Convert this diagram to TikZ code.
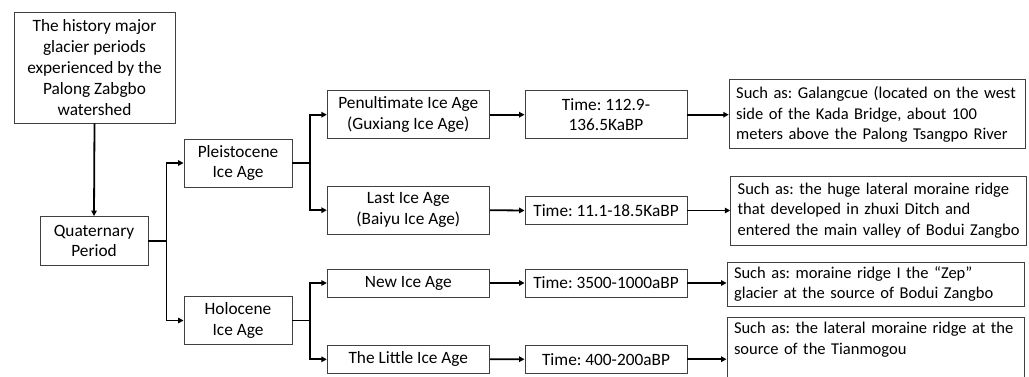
\documentclass[tikz,border=0pt]{standalone}
\usepackage{fontspec}
\setmainfont{Carlito}
\usetikzlibrary{arrows.meta,calc}
\begin{document}
\begin{tikzpicture}[x=1pt,y=-1pt,
  box/.style={draw=black!75,line width=0.9pt,fill=white,inner sep=0pt,align=center,
    font=\fontsize{17.3}{20.8}\selectfont\frenchspacing},
  sbox/.style={box,align=left,text width=#1,inner xsep=7pt,
    font=\fontsize{16.5}{20.8}\selectfont\frenchspacing},
  conn/.style={draw=black,line width=1.8pt},
  arr/.style={conn,-{Triangle[length=5.5pt,width=5.5pt]}}]
\useasboundingbox (0,0) rectangle (1029,377);
\fill[white] (0,0) rectangle (1029,377);
\begin{scope}
\clip (0,0) rectangle (1029,377);
\node[box,minimum width=161pt,minimum height=111pt] (top) at (94.5,67.5)
  {The history major\\glacier periods\\experienced by the\\Palong Zabgbo\\watershed};
\node[box,minimum width=108pt,minimum height=49pt] (quat) at (94,241) {Quaternary\\Period};
\node[box,minimum width=108pt,minimum height=48pt] (pleis) at (238,163) {Pleistocene\\Ice Age};
\node[box,minimum width=108pt,minimum height=48pt] (holo) at (238,320.5) {Holocene\\Ice Age};
\node[box,minimum width=162pt,minimum height=48pt] (pen) at (408.3,114.7) {Penultimate Ice Age\\(Guxiang Ice Age)};
\node[box,minimum width=162pt,minimum height=48pt] (last) at (408.3,210.2) {Last Ice Age\\(Baiyu Ice Age)};
\node[box,minimum width=162pt,minimum height=28pt] (new) at (408.3,283) {New Ice Age};
\node[box,minimum width=162pt,minimum height=28pt] (little) at (408.3,359.3) {The Little Ice Age};
\node[box,minimum width=162pt,minimum height=48pt] (t1) at (606,114.7) {Time: 112.9-\\136.5KaBP};
\node[box,minimum width=162pt,minimum height=28pt] (t2) at (606,210.5) {Time: 11.1-18.5KaBP};
\node[box,minimum width=162pt,minimum height=28pt] (t3) at (606,283) {Time: 3500-1000aBP};
\node[box,minimum width=162pt,minimum height=28pt] (t4) at (606,359.2) {Time: 400-200aBP};
\node[sbox=282pt,minimum height=69pt] (s1) at (877.2,114.4)
  {\hbox{Such as: Galangcue (located on the west}\\side of the Kada Bridge, about 100\\\hbox{meters above the Palong Tsangpo River}};
\node[sbox=282pt,minimum height=69pt] (s2) at (878.7,210.5)
  {\hbox{Such as: the huge lateral moraine ridge}\\that developed in zhuxi Ditch and\\\hbox{entered the main valley of Bodui Zangbo}};
\node[sbox=283pt,minimum height=44pt] (s3) at (875.5,284)
  {Such as: moraine ridge I the “Zep”\\\hbox{glacier at the source of Bodui Zangbo}};
\node[sbox=283pt,minimum height=69pt] (s4) at (875.5,351.5)
  {\hbox{Such as: the lateral moraine ridge at the}\\source of the Tianmogou\\\strut};
\end{scope}
\coordinate (j1) at ($(quat.east)+(18,0)$);
\coordinate (j2) at ($(pleis.east)+(17.7,0)$);
\coordinate (j3) at ($(holo.east)+(17.7,0)$);
\draw[arr] (top.south) -- (quat.north);
\draw[conn] (quat.east) -- (j1);
\draw[arr] (j1) |- (pleis.west);
\draw[arr] (j1) |- (holo.west);
\draw[conn] (pleis.east) -- (j2);
\draw[arr] (j2) |- (pen.west);
\draw[arr] (j2) |- (last.west);
\draw[conn] (holo.east) -- (j3);
\draw[arr] (j3) |- (new.west);
\draw[arr] (j3) |- (little.west);
\draw[arr] (pen.east) -- (t1.west);
\draw[arr] (last.east) -- (t2.west);
\draw[arr] (new.east) -- (t3.west);
\draw[arr] (little.east) -- (t4.west);
\draw[arr] (t1.east) -- (t1.east -| s1.west);
\draw[arr] (t2.east) -- (t2.east -| s2.west);
\draw[arr] (t3.east) -- (t3.east -| s3.west);
\draw[arr] (t4.east) -- (t4.east -| s4.west);
\end{tikzpicture}
\end{document}
